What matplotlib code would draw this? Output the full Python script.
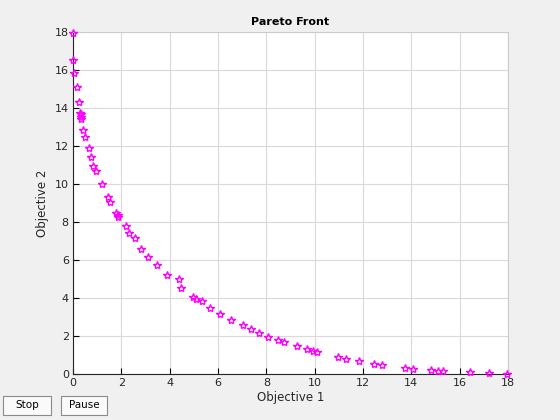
import matplotlib
matplotlib.use("Agg")
from matplotlib import pyplot as plt
from matplotlib.patches import Rectangle

# points
obj1 = [0.0, 0.0, 0.05, 0.15, 0.25, 0.29, 0.32, 0.32, 0.33, 0.43, 0.51, 0.65, 0.73, 0.84,
        0.94, 1.19, 1.43, 1.53, 1.78, 1.87, 1.87, 2.18, 2.33, 2.55, 2.83, 3.12, 3.46, 3.88,
        4.40, 4.48, 4.95, 5.09, 5.32, 5.68, 6.09, 6.55, 7.04, 7.38, 7.71, 8.08, 8.49, 8.74,
        9.28, 9.69, 9.94, 10.10, 10.98, 11.28, 11.85, 12.47, 12.77, 13.74, 14.08, 14.80,
        15.12, 15.30, 16.43, 17.23, 17.97]
obj2 = [17.96, 16.53, 15.83, 15.12, 14.30, 13.75, 13.67, 13.54, 13.42, 12.84, 12.49, 11.88,
        11.44, 10.96, 10.70, 9.98, 9.30, 9.07, 8.49, 8.37, 8.25, 7.79, 7.40, 7.14, 6.56,
        6.14, 5.74, 5.19, 5.00, 4.53, 4.07, 3.96, 3.82, 3.45, 3.16, 2.82, 2.57, 2.35, 2.14,
        1.93, 1.77, 1.67, 1.47, 1.30, 1.19, 1.16, 0.88, 0.79, 0.68, 0.51, 0.46, 0.30, 0.26,
        0.19, 0.16, 0.16, 0.09, 0.04, 0.0]
xticks = list(range(0, 19, 2))
yticks = list(range(0, 19, 2))

fig = plt.figure(figsize=(5.6, 4.2), dpi=100, facecolor="#f0f0f0")
ax = fig.add_axes([0.1304, 0.1095, 0.7768, 0.8143])
ax.set_facecolor("white")

ax.plot(obj1, obj2, linestyle="none", marker="*", markersize=6,
        markerfacecolor="none", markeredgecolor="#ff00ff", markeredgewidth=1, clip_on=False, zorder=3)

ax.set_xlim(0, 18)
ax.set_ylim(0, 18)
ax.set_xticks(xticks)
ax.set_yticks(yticks)
ax.grid(True, color="#d9d9d9", linewidth=0.8)
ax.set_axisbelow(True)
ax.tick_params(direction="in", length=4, width=0.8, labelsize=8, labelcolor="#262626", pad=3)
for s in ["top", "right"]:
    ax.spines[s].set_color("#cccccc")
for s in ["left", "bottom"]:
    ax.spines[s].set_color("#262626")

ax.set_title("Pareto Front", fontsize=8, fontweight="bold", pad=5)
ax.set_xlabel("Objective 1", fontsize=8.5, color="#262626", labelpad=2)
ax.set_ylabel("Objective 2", fontsize=8.5, color="#262626", labelpad=4)

# the two buttons in the lower left corner
for x0, w, label in [(3, 48, "Stop"), (61, 46, "Pause")]:
    fig.patches.append(Rectangle((x0 / 560, 5 / 420), w / 560, 19 / 420, transform=fig.transFigure,
                                 facecolor="#fafafa", edgecolor="#8a8a8a", linewidth=0.8))
    fig.text((x0 + w / 2) / 560, 14.5 / 420, label, ha="center", va="center", fontsize=7.5)

fig.savefig("out.png", dpi=100, facecolor=fig.get_facecolor())
